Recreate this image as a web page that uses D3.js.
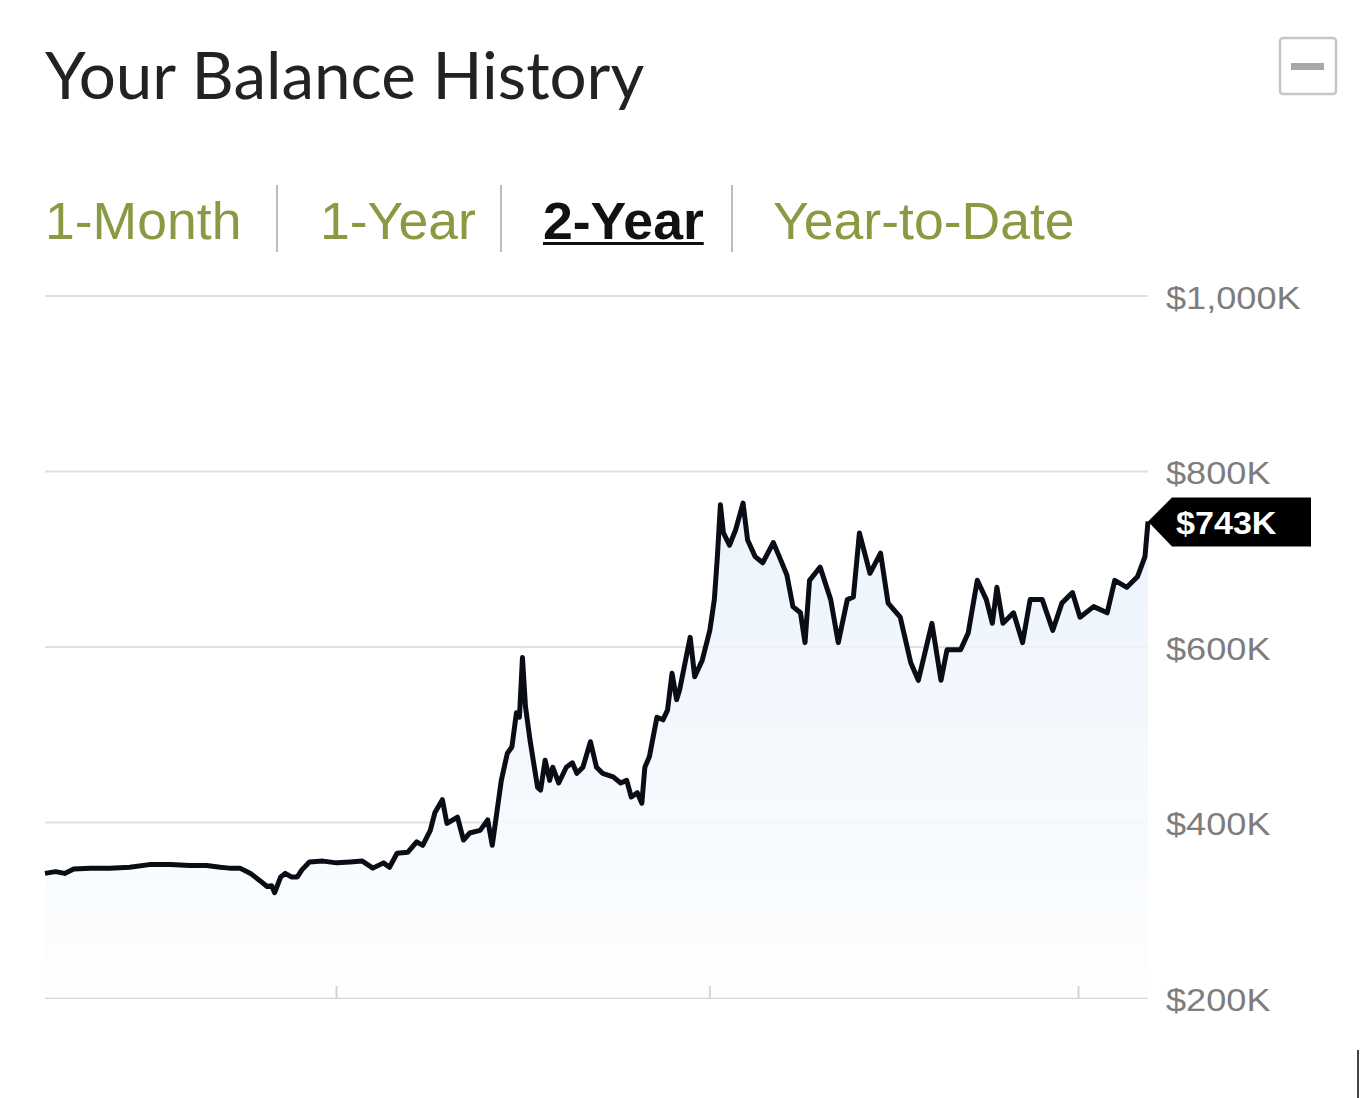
<!DOCTYPE html>
<html>
<head>
<meta charset="utf-8">
<script src="https://cdn.jsdelivr.net/npm/d3@7"></script>
<style>
  html, body { margin: 0; padding: 0; background: #fff; }
</style>
</head>
<body>
<div id="wrapper"></div>
<script>
// Balance history, 2-year window. day = days since start, balance in $K
const days = [0, 7, 13, 19, 30, 43, 56, 69, 83, 96, 107, 116, 122, 129, 136, 142, 147, 150, 152, 156,
  159, 163, 167, 170, 175, 184, 193, 202, 210, 217, 224, 228, 233, 240, 246, 250, 255, 258, 263, 266,
  273, 277, 281, 288, 293, 296, 299, 302, 306, 309, 312, 314, 316, 318, 321, 326, 328, 331, 334, 336,
  340, 345, 349, 352, 356, 361, 365, 369, 376, 381, 385, 388, 392, 395, 397, 400, 405, 409, 412, 415,
  418, 420, 427, 430, 435, 440, 443, 445, 447, 449, 453, 457, 462, 465, 470, 475, 482, 486, 491, 495,
  500, 503, 506, 513, 520, 525, 531, 535, 539, 546, 553, 558, 566, 573, 578, 587, 593, 597, 606, 611,
  617, 623, 627, 630, 634, 641, 647, 652, 660, 667, 673, 680, 685, 694, 703, 708, 716, 723, 728, 730]
const balances = [342, 344, 342, 347, 348, 348, 349, 352, 352, 351, 351, 349, 348, 348, 342, 334, 327, 328, 320, 338,
  342, 338, 338, 346, 355, 356, 354, 355, 356, 348, 354, 349, 365, 366, 378, 374, 391, 411, 426, 399,
  406, 380, 388, 391, 403, 374, 411, 448, 479, 486, 525, 520, 588, 532, 494, 440, 437, 471, 448, 463,
  445, 463, 468, 456, 463, 492, 463, 456, 452, 445, 448, 429, 434, 422, 463, 475, 520, 517, 528, 570,
  540, 551, 611, 566, 585, 619, 654, 703, 762, 730, 716, 733, 764, 722, 703, 696, 719, 703, 682, 646,
  639, 605, 676, 691, 654, 605, 654, 657, 730, 684, 707, 650, 634, 582, 562, 627, 562, 597, 597, 616,
  676, 654, 627, 668, 627, 639, 605, 654, 654, 619, 650, 662, 634, 646, 639, 676, 668, 680, 703, 743]

const yTicks = [200, 400, 600, 800, 1000]
const xTickDays = [193, 440, 684]
const tabs = ['1-Month', '1-Year', '2-Year', 'Year-to-Date']
const activeTab = '2-Year'
const title = 'Your Balance History'

function drawChart() {
  const data = days.map((d, i) => ({ day: d, value: balances[i] }))
  const last = data[data.length - 1]

  const dimensions = {
    width: 1360,
    height: 1098,
    margin: { top: 296, right: 212, bottom: 100, left: 45 },
  }
  dimensions.boundedWidth = dimensions.width - dimensions.margin.left - dimensions.margin.right
  dimensions.boundedHeight = dimensions.height - dimensions.margin.top - dimensions.margin.bottom

  const svg = d3.select('#wrapper')
    .append('svg')
      .attr('width', dimensions.width)
      .attr('height', dimensions.height)

  // header
  svg.append('text')
    .attr('x', 45)
    .attr('y', 99)
    .attr('font-family', 'Lato, sans-serif')
    .attr('font-size', 65.5)
    .attr('fill', '#222')
    .text(title)

  // collapse button
  svg.append('rect')
    .attr('x', 1280).attr('y', 38)
    .attr('width', 56).attr('height', 56)
    .attr('rx', 3)
    .attr('fill', '#fff')
    .attr('stroke', '#c6c6c6')
    .attr('stroke-width', 2.5)
  svg.append('rect')
    .attr('x', 1291).attr('y', 63)
    .attr('width', 33).attr('height', 7)
    .attr('fill', '#a8a8a8')

  // tabs
  const tabX = [45, 320, 543, 773]
  const sepX = [277, 501, 732]
  const sx = 1.05
  tabs.forEach((t, i) => {
    const active = t === activeTab
    const txt = svg.append('text')
      .attr('transform', `translate(${tabX[i]},239) scale(${sx},1)`)
      .attr('font-family', 'Liberation Sans, Arial, sans-serif')
      .attr('font-size', 51)
      .attr('font-weight', active ? 'bold' : 'normal')
      .attr('fill', active ? '#111' : '#889a42')
      .text(t)
    if (active) {
      const w = txt.node().getComputedTextLength() * sx
      svg.append('rect')
        .attr('x', tabX[i]).attr('y', 242)
        .attr('width', w).attr('height', 3)
        .attr('fill', '#111')
    }
  })
  sepX.forEach(x => {
    svg.append('line')
      .attr('x1', x).attr('x2', x)
      .attr('y1', 185).attr('y2', 252)
      .attr('stroke', '#bdbdbd')
      .attr('stroke-width', 2)
  })

  const bounds = svg.append('g')
    .attr('transform', `translate(${dimensions.margin.left},${dimensions.margin.top})`)

  // scales
  const xScale = d3.scaleLinear()
    .domain([0, 730])
    .range([0, dimensions.boundedWidth])
  const yScale = d3.scaleLinear()
    .domain([200, 1000])
    .range([dimensions.boundedHeight, 0])

  // grid lines
  bounds.selectAll('.grid')
    .data(yTicks)
    .join('line')
      .attr('x1', 0).attr('x2', dimensions.boundedWidth)
      .attr('y1', d => yScale(d)).attr('y2', d => yScale(d))
      .attr('stroke', d => d === 200 ? '#d4d4d4' : '#e0e0e0')
      .attr('stroke-width', 2)

  // area gradient
  const defs = svg.append('defs')
  const grad = defs.append('linearGradient')
    .attr('id', 'areaGrad')
    .attr('gradientUnits', 'userSpaceOnUse')
    .attr('x1', 0).attr('x2', 0)
    .attr('y1', yScale(800)).attr('y2', yScale(200))
  grad.append('stop').attr('offset', '0%').attr('stop-color', '#e6f0fb')
  grad.append('stop').attr('offset', '100%').attr('stop-color', '#fdfeff')

  const areaGenerator = d3.area()
    .x(d => xScale(d.day))
    .y0(yScale(200))
    .y1(d => yScale(d.value))
  bounds.append('path')
    .attr('d', areaGenerator(data))
    .attr('fill', 'url(#areaGrad)')
    .attr('fill-opacity', 0.85)

  // x ticks (no labels)
  bounds.selectAll('.xtick')
    .data(xTickDays)
    .join('line')
      .attr('x1', d => xScale(d)).attr('x2', d => xScale(d))
      .attr('y1', dimensions.boundedHeight - 12).attr('y2', dimensions.boundedHeight)
      .attr('stroke', '#d4d4d4')
      .attr('stroke-width', 2)

  const lineGenerator = d3.line()
    .x(d => xScale(d.day))
    .y(d => yScale(d.value))
  bounds.append('path')
    .attr('d', lineGenerator(data))
    .attr('fill', 'none')
    .attr('stroke', '#0b0d16')
    .attr('stroke-width', 5)
    .attr('stroke-linejoin', 'round')

  // y axis labels
  const yAxisGenerator = d3.axisRight(yScale)
    .tickValues(yTicks)
    .tickSize(0)
    .tickPadding(0)
    .tickFormat(d => '$' + d3.format(',')(d) + 'K')
  const yAxis = bounds.append('g')
    .attr('transform', `translate(${dimensions.boundedWidth + 18},0)`)
    .call(yAxisGenerator)
  yAxis.select('.domain').remove()
  yAxis.selectAll('text')
    .attr('font-family', 'Liberation Sans, Arial, sans-serif')
    .attr('font-size', 32)
    .attr('fill', '#7d7d7d')
    .attr('dy', '0.38em')
    .attr('transform', 'scale(1.13,1)')
    .attr('x', 0)

  // current balance badge
  const tipX = xScale(last.day)
  const tipY = yScale(last.value)
  const badge = bounds.append('g')
    .attr('transform', `translate(${tipX},${tipY})`)
  badge.append('path')
    .attr('d', 'M0,0 L24,-24 L163,-24 L163,25 L24,25 Z')
    .attr('fill', '#000')
  badge.append('text')
    .attr('transform', 'translate(28,12) scale(1.1,1)')
    .attr('font-family', 'Liberation Sans, Arial, sans-serif')
    .attr('font-size', 31)
    .attr('font-weight', 'bold')
    .attr('fill', '#fff')
    .text('$' + last.value + 'K')

  // stray edge mark at bottom right
  svg.append('line')
    .attr('x1', 1358).attr('x2', 1358)
    .attr('y1', 1050).attr('y2', 1098)
    .attr('stroke', '#444')
    .attr('stroke-width', 2)
}

drawChart()
</script>
</body>
</html>
